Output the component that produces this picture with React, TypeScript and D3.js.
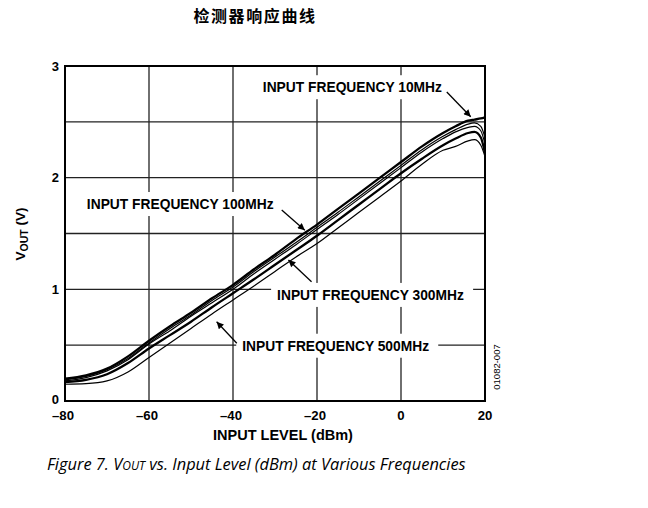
import React from "react";
import * as d3 from "d3";

const W = 648;
const H = 508;

const inputLevels = [-80, -75, -70, -65, -60, -55, -50, -45, -40, -35, -30, -25, -20, -15, -10, -5, 0, 5, 10, 13, 16, 17.5, 19, 20];

const vout10 = [0.2, 0.23, 0.29, 0.4, 0.54, 0.67, 0.79, 0.92, 1.04, 1.18, 1.31, 1.45, 1.58, 1.72, 1.86, 2.0, 2.14, 2.28, 2.4, 2.46, 2.51, 2.52, 2.53, 2.54];
const vout100 = [0.19, 0.22, 0.28, 0.38, 0.52, 0.65, 0.77, 0.9, 1.02, 1.16, 1.29, 1.42, 1.555, 1.69, 1.83, 1.97, 2.11, 2.25, 2.37, 2.43, 2.48, 2.49, 2.46, 2.36];
const vout200 = [0.18, 0.21, 0.27, 0.37, 0.51, 0.63, 0.76, 0.88, 1.0, 1.14, 1.27, 1.4, 1.535, 1.67, 1.81, 1.95, 2.09, 2.23, 2.35, 2.41, 2.45, 2.46, 2.42, 2.3];
const vout300 = [0.17, 0.19, 0.24, 0.34, 0.47, 0.59, 0.71, 0.84, 0.965, 1.09, 1.22, 1.35, 1.48, 1.62, 1.76, 1.9, 2.04, 2.17, 2.29, 2.35, 2.4, 2.41, 2.36, 2.22];
const vout500 = [0.15, 0.155, 0.18, 0.26, 0.39, 0.52, 0.65, 0.78, 0.905, 1.03, 1.16, 1.29, 1.41, 1.55, 1.69, 1.83, 1.97, 2.12, 2.245, 2.28, 2.33, 2.34, 2.29, 2.19];

const seriesList = [
  { name: "10MHz", values: vout10, thick: true },
  { name: "100MHz", values: vout100, thick: false },
  { name: "200MHz", values: vout200, thick: false },
  { name: "300MHz", values: vout300, thick: true },
  { name: "500MHz", values: vout500, thick: false },
];

const xTicks = [-80, -60, -40, -20, 0, 20];
const yTicks = [0, 1, 2, 3];
const yGrid = [0.5, 1, 1.5, 2, 2.5];

// annotations in data space: label anchor (left, middle), arrow start, arrow end
const annotations = [
  { text: "INPUT FREQUENCY 10MHz", lx: -32.9, ly: 2.81, ax: [10.9, 2.767], bx: [16.6, 2.545] },
  { text: "INPUT FREQUENCY 100MHz", lx: -74.8, ly: 1.764, ax: [-28.4, 1.71], bx: [-22.9, 1.53] },
  { text: "INPUT FREQUENCY 300MHz", lx: -29.5, ly: 0.95, ax: [-21.3, 1.068], bx: [-26.8, 1.263] },
  { text: "INPUT FREQUENCY 500MHz", lx: -37.8, ly: 0.495, ax: [-39.1, 0.517], bx: [-43.9, 0.71] },
];

export default function App() {
  const x = d3.scaleLinear().domain([-80, 20]).range([65, 485]);
  const y = d3.scaleLinear().domain([0, 3]).range([401, 66]);

  const line = d3
    .line<number>()
    .x((_, i) => x(inputLevels[i]))
    .y((d) => y(d))
    .curve(d3.curveMonotoneX);

  const labelFont = "'Liberation Sans', Arial, sans-serif";
  const fs = 13.8;

  return (
    <svg width={W} height={H} style={{ position: "absolute", left: 0, top: 0, background: "#fff" }}>
      <defs>
        <marker id="ah" viewBox="0 0 10 10" refX="10" refY="5" markerWidth="11" markerHeight="7" markerUnits="userSpaceOnUse" orient="auto">
          <path d="M0,0 L10,5 L0,10 Z" fill="#000" />
        </marker>
      </defs>
      <rect x={0} y={0} width={W} height={H} fill="#fff" />

      {/* title */}
      <text x={255} y={22} textAnchor="middle" fontFamily="'Noto Sans CJK SC', sans-serif" fontWeight="bold" fontSize={16} letterSpacing={1.6}>
        检测器响应曲线
      </text>

      {/* grid */}
      {xTicks.slice(1, -1).map((t) => (
        <line key={"gx" + t} x1={x(t)} x2={x(t)} y1={y(3)} y2={y(0)} stroke="#222" strokeWidth={1.3} />
      ))}
      {yGrid.map((t) => (
        <line key={"gy" + t} x1={x(-80)} x2={x(20)} y1={y(t)} y2={y(t)} stroke="#222" strokeWidth={1.3} />
      ))}

      {/* curves */}
      {seriesList.map((s) => (
        <path key={s.name} d={line(s.values) || ""} fill="none" stroke="#000" strokeWidth={s.thick ? 2.3 : 1.2} strokeLinejoin="round" />
      ))}

      {/* annotations */}
      {annotations.map((a) => {
        const w = a.text.length > 21 ? 190 : 185;
        return (
          <g key={a.text}>
            <rect x={x(a.lx) - 6} y={y(a.ly) - 12} width={w + 12} height={24} fill="#fff" />
            <text x={x(a.lx)} y={y(a.ly) + 5} fontFamily={labelFont} fontWeight="bold" fontSize={fs}>
              {a.text}
            </text>
            <line x1={x(a.ax[0])} y1={y(a.ax[1])} x2={x(a.bx[0])} y2={y(a.bx[1])} stroke="#000" strokeWidth={1.3} markerEnd="url(#ah)" />
          </g>
        );
      })}

      {/* frame */}
      <rect x={x(-80)} y={y(3)} width={x(20) - x(-80)} height={y(0) - y(3)} fill="none" stroke="#000" strokeWidth={2} />

      {/* y tick labels */}
      {yTicks.map((t) => (
        <text key={"yt" + t} x={59} y={y(t) + (t === 0 ? 3 : 4.5)} textAnchor="end" fontFamily={labelFont} fontWeight="bold" fontSize={13}>
          {t}
        </text>
      ))}
      {/* x tick labels */}
      {xTicks.map((t) => (
        <text key={"xt" + t} x={x(t) - (t < 0 ? 2 : 0)} y={420} textAnchor="middle" fontFamily={labelFont} fontWeight="bold" fontSize={13.2}>
          {t < 0 ? "\u2013" + Math.abs(t) : String(t)}
        </text>
      ))}

      {/* axis titles */}
      <text x={283} y={440} textAnchor="middle" fontFamily={labelFont} fontWeight="bold" fontSize={14.5}>
        INPUT LEVEL (dBm)
      </text>
      <text transform="translate(25,234) rotate(-90)" textAnchor="middle" fontFamily={labelFont} fontWeight="bold" fontSize={13.5}>
        V<tspan fontSize={10.5} dy={3}>OUT</tspan>
        <tspan dy={-3}> (V)</tspan>
      </text>

      {/* figure id */}
      <text transform="translate(500,367) rotate(-90)" textAnchor="middle" fontFamily={labelFont} fontSize={9.5}>
        01082-007
      </text>

      {/* caption */}
      <text x={47} y={470} fontFamily="'Open Sans', sans-serif" fontStyle="italic" fontSize={16.4}>
        Figure 7. V<tspan fontSize={12}>OUT</tspan> vs. Input Level (dBm) at Various Frequencies
      </text>
    </svg>
  );
}
